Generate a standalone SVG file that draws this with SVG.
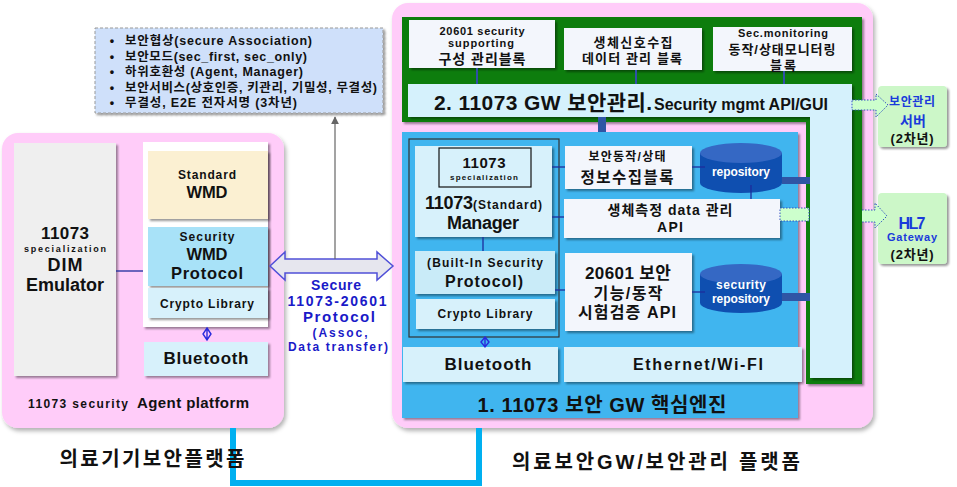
<svg xmlns="http://www.w3.org/2000/svg" width="957" height="487" viewBox="0 0 957 487">
<defs>
<filter id="sh" x="-10%" y="-10%" width="130%" height="130%"><feDropShadow dx="2" dy="2" stdDeviation="1.2" flood-color="#000" flood-opacity="0.4"/></filter>
<filter id="shs" x="-10%" y="-10%" width="130%" height="130%"><feDropShadow dx="2" dy="3" stdDeviation="2" flood-color="#000" flood-opacity="0.3"/></filter>
<marker id="ah" viewBox="0 0 10 10" refX="9" refY="5" markerWidth="8" markerHeight="8" markerUnits="userSpaceOnUse" orient="auto"><path d="M0 0 L10 5 L0 10 Z" fill="#666"/></marker>
</defs>
<style>
text{font-family:"Liberation Sans","Noto Sans CJK KR",sans-serif;font-weight:bold;fill:#111;text-anchor:middle}
.pl{fill:#FFCCF9}
.lb{fill:#D7F1FB;filter:url(#sh)}
.wb{fill:#F3F6FC;filter:url(#sh)}
.ln{stroke:#1C2C9C;stroke-width:1.3;fill:none}
.bt{fill:#1A1AC8}
.sb{fill:#1A3ADB}
.wt{fill:#fff}
.gb{fill:#CCF7C8;filter:url(#sh)}
.ga{fill:#CCFFCC;stroke:#3050C0;stroke-width:1;stroke-dasharray:1.5 1.5}
.db{fill:#2F55A5}
.cyl{fill:#0F4FB0}
.cyt{fill:#3568C4}
.st{text-anchor:start}
</style>

<!-- platforms -->
<g id="left-platform">
<rect class="pl" x="2" y="133" width="282" height="295" rx="16" filter="url(#shs)"/>
<text x="78" y="408" font-size="12" textLength="100">11073 security</text>
<text x="193" y="408" font-size="15" textLength="112">Agent platform</text>
</g>
<g id="right-platform">
<rect class="pl" x="392" y="3" width="481" height="425" rx="16" filter="url(#shs)"/>
</g>

<!-- bullet note -->
<g id="note">
<rect x="95" y="28" width="288" height="85" fill="#CFE0FA" stroke="#999" stroke-dasharray="3 2" filter="url(#sh)"/>
<g font-size="12.5">
<text x="112" y="45">•</text><text class="st" x="125" y="45" textLength="187">보안협상(secure Association)</text>
<text x="112" y="61">•</text><text class="st" x="125" y="61" textLength="182">보안모드(sec_first, sec_only)</text>
<text x="112" y="76">•</text><text class="st" x="125" y="76" textLength="178">하위호환성 (Agent, Manager)</text>
<text x="112" y="92">•</text><text class="st" x="125" y="92" textLength="252">보안서비스(상호인증, 키관리, 기밀성, 무결성)</text>
<text x="112" y="107">•</text><text class="st" x="125" y="107" textLength="172">무결성, E2E 전자서명 (3차년)</text>
</g>
</g>

<!-- left platform nodes -->
<g id="dim-emulator">
<rect x="14" y="143" width="102" height="233" fill="#EFEFEF" filter="url(#sh)"/>
<text x="65" y="239" font-size="17" textLength="48">11073</text>
<text x="65" y="252" font-size="9" textLength="82">specialization</text>
<text x="65" y="271" font-size="18" textLength="35">DIM</text>
<text x="65" y="291" font-size="18" textLength="78">Emulator</text>
</g>
<g id="agent-stack">
<rect x="143" y="142" width="125" height="185" fill="#fff" filter="url(#sh)"/>
</g>
<g id="standard-wmd">
<rect x="148" y="151" width="120" height="68" fill="#FBF0D2" filter="url(#sh)"/>
<text x="207" y="179" font-size="12" textLength="58">Standard</text>
<text x="207" y="198" font-size="16.5" textLength="41">WMD</text>
</g>
<g id="security-wmd">
<rect x="148" y="227" width="120" height="59" fill="#A8E2F8" filter="url(#sh)"/>
<text x="207" y="241" font-size="12" textLength="55">Security</text>
<text x="207" y="260" font-size="16.5" textLength="41">WMD</text>
<text x="207" y="279" font-size="16.5" textLength="72">Protocol</text>
</g>
<g id="agent-crypto">
<rect class="lb" x="148" y="288" width="120" height="30"/>
<text x="207" y="308" font-size="12" textLength="94">Crypto Library</text>
</g>
<g id="agent-bluetooth">
<rect class="lb" x="144" y="342" width="124" height="34"/>
<text x="206" y="364" font-size="17" textLength="85">Bluetooth</text>
</g>

<!-- secure protocol -->
<g id="secure-protocol">
<path d="M270 266 L285 252 L285 259 L377 259 L377 252 L393 266 L377 280 L377 273 L285 273 L285 280 Z" fill="#E6E6EE" stroke="#5050D8" stroke-width="1.5"/>
<text class="bt" x="336" y="290" font-size="14" textLength="50">Secure</text>
<text class="bt" x="337" y="306" font-size="14" textLength="99">11073-20601</text>
<text class="bt" x="339" y="322" font-size="15" textLength="72">Protocol</text>
<text class="bt" x="340" y="337" font-size="12" textLength="55">(Assoc,</text>
<text class="bt" x="338" y="351" font-size="12" textLength="100">Data transfer)</text>
</g>

<!-- right: green frame -->
<g id="security-mgmt">
<path d="M402 17 H862 V384 H806 V122 H402 Z" fill="#0A7D0A" filter="url(#sh)"/>
<path d="M408 84 H852 V378 H810 V117 H408 Z" fill="#D5F1FC" filter="url(#sh)"/>
<text x="543" y="110" font-size="21" textLength="218">2. 11073 GW 보안관리.</text>
<text x="741" y="110" font-size="16" textLength="174">Security mgmt API/GUI</text>
</g>
<g id="config-block">
<rect class="wb" x="409" y="20" width="146" height="48"/>
<text x="482" y="35" font-size="11" textLength="85">20601 security</text>
<text x="481" y="47" font-size="11" textLength="66">supporting</text>
<text x="482" y="64" font-size="14" textLength="87">구성 관리블록</text>
</g>
<g id="bio-block">
<rect class="wb" x="564" y="28" width="138" height="42"/>
<text x="633" y="47" font-size="13" textLength="79">생체신호수집</text>
<text x="632" y="63" font-size="13" textLength="100">데이터 관리 블록</text>
</g>
<g id="monitor-block">
<rect class="wb" x="713" y="27" width="139" height="44"/>
<text x="783" y="37" font-size="11" textLength="90">Sec.monitoring</text>
<text x="782" y="54" font-size="13" textLength="107">동작/상태모니터링</text>
<text x="783" y="70" font-size="13" textLength="26">블록</text>
</g>

<!-- core engine -->
<g id="core-engine">
<rect x="402" y="132" width="396" height="286" fill="#3FB5EF" filter="url(#sh)"/>
<text x="602" y="412" font-size="20" textLength="249">1. 11073 보안 GW 핵심엔진</text>
</g>
<g id="manager-group">
<rect x="409" y="139" width="150" height="198" fill="none" stroke="#333" stroke-width="1.2"/>
</g>
<g id="manager">
<rect class="lb" x="415" y="146" width="137" height="91"/>
<rect x="439" y="148" width="92" height="39" fill="#D7F1FB" stroke="#111" stroke-width="1.2"/>
<text x="484" y="168" font-size="15" textLength="43">11073</text>
<text x="484" y="180" font-size="8" textLength="68">specialization</text>
<text class="st" x="425" y="209" font-size="18" textLength="48">11073</text>
<text class="st" x="473" y="209" font-size="12" textLength="69">(Standard)</text>
<text x="483" y="229" font-size="18" textLength="72">Manager</text>
</g>
<g id="builtin-protocol">
<rect x="415" y="251" width="140" height="43" fill="#C9EBF8" filter="url(#sh)"/>
<text x="485" y="267" font-size="12" textLength="116">(Built-In Security</text>
<text x="484" y="287" font-size="16" textLength="78">Protocol)</text>
</g>
<g id="gw-crypto">
<rect class="lb" x="416" y="299" width="139" height="30"/>
<text x="485" y="318" font-size="12" textLength="95">Crypto Library</text>
</g>
<g id="gw-bluetooth">
<rect class="lb" x="403" y="347" width="155" height="35"/>
<text x="488" y="370" font-size="17" textLength="87">Bluetooth</text>
</g>
<g id="gw-ethernet">
<rect class="lb" x="564" y="347" width="238" height="35"/>
<text x="698" y="370" font-size="16" textLength="130">Ethernet/Wi-FI</text>
</g>
<g id="status-block">
<rect class="wb" x="565" y="146" width="127" height="43"/>
<text x="627" y="161" font-size="12" textLength="77">보안동작/상태</text>
<text x="627" y="183" font-size="15.5" textLength="93">정보수집블록</text>
</g>
<g id="bio-api">
<rect class="wb" x="564" y="199" width="216" height="39"/>
<text x="670" y="215" font-size="14" textLength="125">생체측정 data 관리</text>
<text x="670" y="232" font-size="14" textLength="26">API</text>
</g>
<g id="test-api">
<rect class="wb" x="565" y="253" width="127" height="78"/>
<text x="628" y="279" font-size="17" textLength="86">20601 보안</text>
<text x="628" y="299" font-size="16" textLength="69">기능/동작</text>
<text x="627" y="318" font-size="16" textLength="98">시험검증 API</text>
</g>
<g id="repository">
<path class="cyl" d="M700 153 V183 A41 10 0 0 0 782 183 V153 Z"/>
<ellipse class="cyt" cx="741" cy="153" rx="41" ry="10"/>
<text class="wt" x="741" y="176" font-size="12" textLength="58">repository</text>
</g>
<g id="security-repository">
<path class="cyl" d="M700 274 V303 A41 10 0 0 0 782 303 V274 Z"/>
<ellipse class="cyt" cx="741" cy="274" rx="41" ry="10"/>
<text class="wt" x="741" y="289" font-size="12" textLength="50">security</text>
<text class="wt" x="741" y="303" font-size="12" textLength="58">repository</text>
</g>

<!-- side boxes -->
<g id="mgmt-server">
<rect class="gb" x="878" y="86" width="69" height="61" rx="4"/>
<text class="sb" x="912" y="106" font-size="12" textLength="46">보안관리</text>
<text class="sb" x="913" y="126" font-size="14" textLength="26">서버</text>
<text x="912" y="143" font-size="13" textLength="43">(2차년)</text>
</g>
<g id="hl7-gateway">
<rect class="gb" x="878" y="193" width="69" height="71" rx="4"/>
<text class="sb" x="912" y="229" font-size="16" textLength="27">HL7</text>
<text class="sb" x="912" y="241" font-size="11" textLength="50">Gateway</text>
<text x="912" y="259" font-size="13" textLength="43">(2차년)</text>
</g>

<!-- connectors -->
<g id="connectors">
<line class="ln" x1="116" y1="271" x2="143" y2="271"/>
<line x1="335" y1="259" x2="335" y2="117" stroke="#666" stroke-width="1.2" marker-end="url(#ah)"/>
<path d="M207 328 L211 334 L207 340 L203 334 Z M207 328 V340" fill="none" stroke="#2A2ADC" stroke-width="1.4"/>
<path d="M485 337 L489 342 L485 347 L481 342 Z M485 337 V347" fill="none" stroke="#2A2ADC" stroke-width="1.4"/>
<line x1="477" y1="68" x2="477" y2="84" stroke="#3050A8" stroke-width="2"/>
<line x1="636" y1="70" x2="636" y2="84" stroke="#3050A8" stroke-width="2"/>
<line x1="784" y1="71" x2="784" y2="84" stroke="#3050A8" stroke-width="2"/>
<rect class="db" x="598" y="117" width="8" height="15"/>
<line class="ln" x1="552" y1="167" x2="565" y2="167"/>
<line class="ln" x1="552" y1="217" x2="564" y2="217"/>
<line class="ln" x1="483" y1="237" x2="483" y2="251"/>
<line class="ln" x1="555" y1="290" x2="565" y2="290"/>
<line class="ln" x1="692" y1="167" x2="705" y2="167"/>
<line class="ln" x1="692" y1="292" x2="705" y2="292"/>
<line class="ln" x1="751" y1="185" x2="751" y2="199"/>
<rect class="db" x="782" y="177" width="28" height="7"/>
<rect class="db" x="782" y="293" width="28" height="8"/>
<rect class="ga" x="780" y="208" width="29" height="13"/>
<path class="ga" d="M862 210 H875 V203 L887 216 L875 228 V222 H862"/>
<path class="ga" d="M852 100 H876 V94 L888 105 L876 117 V110 H852 Z"/>
<path d="M233 428 V483 H479 V428" fill="none" stroke="#00B0F0" stroke-width="6"/>
</g>

<!-- bottom labels -->
<g id="labels">
<text x="152" y="466" font-size="20" font-weight="900" textLength="185">의료기기보안플랫폼</text>
<text x="656" y="469" font-size="20" font-weight="900" textLength="288">의료보안GW/보안관리 플랫폼</text>
</g>
</svg>
